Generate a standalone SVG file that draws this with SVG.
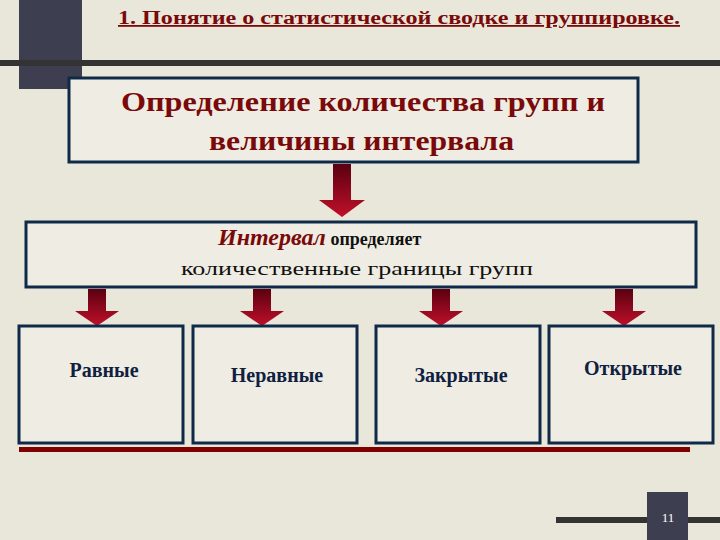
<svg xmlns="http://www.w3.org/2000/svg" width="720" height="540" viewBox="0 0 720 540" font-family="'Liberation Serif', 'DejaVu Serif', serif">
<defs>
<linearGradient id="ag" x1="0" y1="0" x2="0" y2="1"><stop offset="0" stop-color="#5a0010"/><stop offset="1" stop-color="#c0102a"/></linearGradient>
<style>
.box{fill:#efede3;stroke:#0f2a48;stroke-width:3}
.arr{fill:url(#ag)}
.t{font-weight:bold}
</style>
</defs>
<rect width="720" height="540" fill="#e9e6da"/>
<rect x="19" y="0" width="63" height="89" fill="#3d3f50"/>
<rect x="0" y="60" width="720" height="6" fill="#333"/>
<rect x="556" y="517" width="164" height="6" fill="#333"/>
<rect x="647" y="492" width="41" height="48" fill="#3d3f50"/>
<text x="668" y="522" font-size="13" fill="#fff" text-anchor="middle">11</text>
<text class="t" x="118" y="24" font-size="18" fill="#7a0a0a" text-decoration="underline" textLength="562" lengthAdjust="spacingAndGlyphs">1. Понятие о статистической сводке и группировке.</text>
<rect x="19" y="447" width="671" height="5" fill="#800000"/>
<g id="connectors">
<path class="arr" d="M333 164h18v36h14l-23 17-23-17h14z"/>
<path class="arr" d="M88 289h18v22h13l-22 15-22-15h13z"/>
<path class="arr" d="M253 289h18v22h13l-22 15-22-15h13z"/>
<path class="arr" d="M432 289h18v22h13l-22 15-22-15h13z"/>
<path class="arr" d="M615 289h18v22h13l-22 15-22-15h13z"/>
</g>
<g id="n1"><rect class="box" x="69" y="78" width="569" height="84"/>
<text class="t" x="121" y="111" font-size="27" fill="#7a0a0a" textLength="484" lengthAdjust="spacingAndGlyphs">Определение количества групп и</text>
<text class="t" x="209" y="150" font-size="27" fill="#7a0a0a" textLength="305" lengthAdjust="spacingAndGlyphs">величины интервала</text></g>
<g id="n2"><rect class="box" x="26" y="222" width="670" height="65"/>
<text class="t" x="218" y="245"><tspan font-size="24" font-style="italic" fill="#7a0a0a">Интервал</tspan><tspan font-size="18" fill="#111"> определяет</tspan></text>
<text x="181" y="275" font-size="19" fill="#111" textLength="352" lengthAdjust="spacingAndGlyphs">количественные границы групп</text></g>
<g id="n3"><rect class="box" x="19" y="326" width="164" height="117"/><text class="t" x="104" y="377" font-size="20" fill="#0f2040" text-anchor="middle">Равные</text></g>
<g id="n4"><rect class="box" x="193" y="326" width="164" height="117"/><text class="t" x="277" y="382" font-size="20" fill="#0f2040" text-anchor="middle">Неравные</text></g>
<g id="n5"><rect class="box" x="376" y="326" width="164" height="117"/><text class="t" x="461" y="382" font-size="20" fill="#0f2040" text-anchor="middle">Закрытые</text></g>
<g id="n6"><rect class="box" x="549" y="326" width="164" height="117"/><text class="t" x="633" y="375" font-size="20" fill="#0f2040" text-anchor="middle">Открытые</text></g>
</svg>
